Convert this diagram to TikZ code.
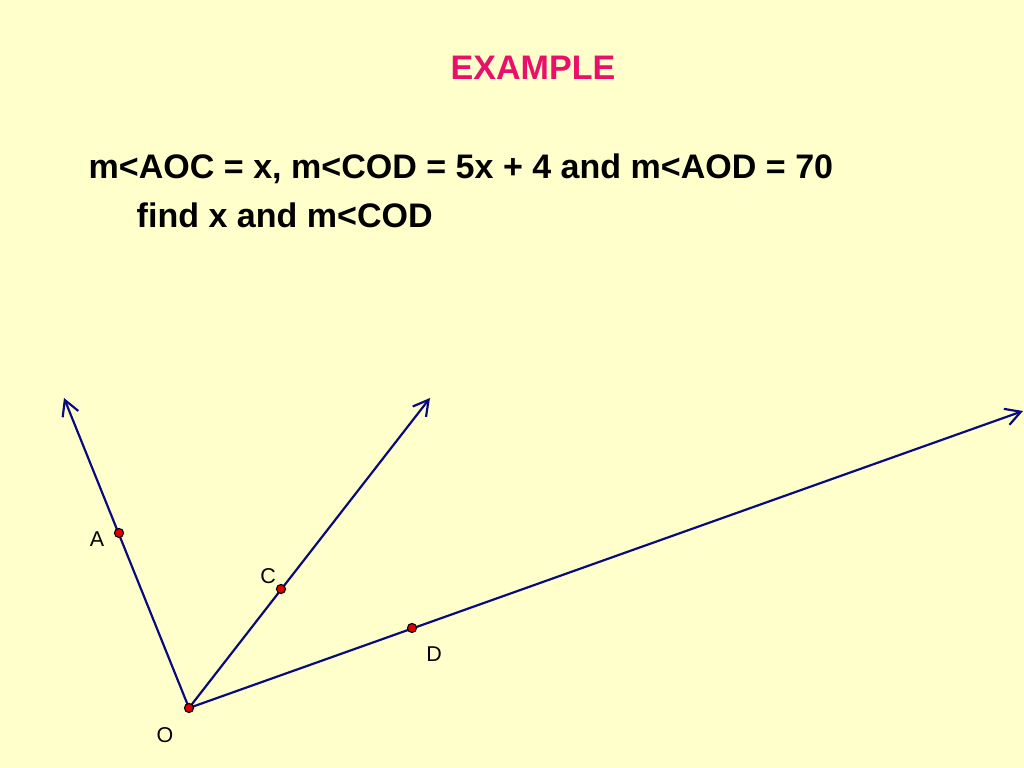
\documentclass[tikz,border=0pt]{standalone}
\usepackage{fontspec}
\setmainfont{Liberation Sans}
\usepackage{xcolor}
\usetikzlibrary{arrows.meta}

\definecolor{slidebg}{RGB}{255,255,204}
\definecolor{titlepink}{RGB}{234,16,106}
\definecolor{raynavy}{RGB}{10,10,128}
\definecolor{dotred}{RGB}{220,0,0}

\tikzset{
  ray/.style={raynavy, line width=0.62pt, -{Straight Barb[length=4.3pt, width=4.8pt, line width=0.62pt]}},
  dot/.style={circle, fill=dotred, draw=black, line width=0.3pt, inner sep=0pt, minimum size=2.6pt},
  ptlabel/.style={font=\fontsize{6.1}{7}\selectfont},
  stmt/.style={font=\fontsize{9.68}{11.5}\selectfont\bfseries, anchor=base west, inner sep=0pt}
}

\begin{document}
\begin{tikzpicture}[x=0.01cm, y=-0.01cm]
    % slide background
    \fill[slidebg] (0,0) rectangle (1024,768);
    \useasboundingbox (0,0) rectangle (1024,768);

    % heading and problem text
    \node[stmt, anchor=base, text=titlepink] (title) at (533,80) {EXAMPLE};
    \node[stmt] (line1) at (88,179) {m<AOC = x, m<COD = 5x + 4 and m<AOD = 70};
    \node[stmt] (line2) at (136,228) {find x and m<COD};

    % vertex, points on the rays and ray ends
    \coordinate (O) at (189,708);
    \coordinate (A) at (119,533);
    \coordinate (C) at (281,589);
    \coordinate (D) at (412,628);
    \coordinate (endA) at (64,398);
    \coordinate (endC) at (430,398);
    \coordinate (endD) at (1023,411);

    \draw[ray] (O) -- (endA);
    \draw[ray] (O) -- (endC);
    \draw[ray] (O) -- (endD);

    \node[dot] (dotO) at (O) {};
    \node[dot] (dotA) at (A) {};
    \node[dot] (dotC) at (C) {};
    \node[dot] (dotD) at (D) {};

    \node[ptlabel] (labA) at (97,539) {A};
    \node[ptlabel] (labC) at (268,576) {C};
    \node[ptlabel] (labD) at (434,654) {D};
    \node[ptlabel] (labO) at (165,735) {O};
  \end{tikzpicture}
\end{document}
